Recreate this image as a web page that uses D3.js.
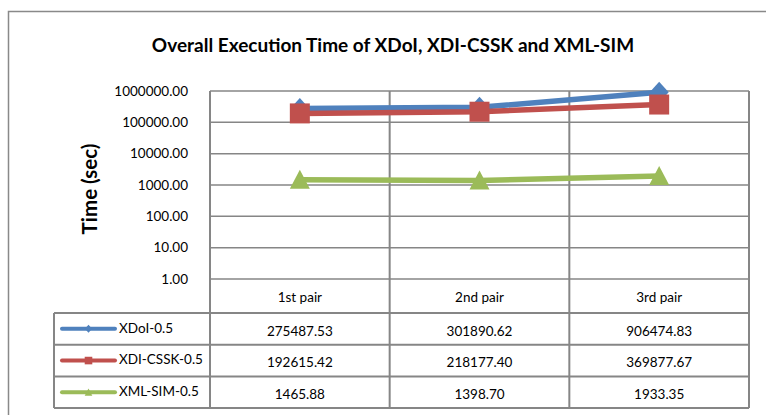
<!DOCTYPE html>
<html><head><meta charset="utf-8">
<script src="https://cdn.jsdelivr.net/npm/d3@7"></script>
<style>
body{margin:0;background:#fff;}
svg{display:block;}
text{font-family:Lato,"Open Sans",sans-serif;fill:#000;}
</style></head>
<body><svg id="c" width="766" height="415"></svg>
<script>
const categories = ["1st pair", "2nd pair", "3rd pair"];
const seriesNames = ["XDoI-0.5", "XDI-CSSK-0.5", "XML-SIM-0.5"];
const xdoi = [275487.53, 301890.62, 906474.83];
const xdiCssk = [192615.42, 218177.40, 369877.67];
const xmlSim = [1465.88, 1398.70, 1933.35];
const yTicks = [1, 10, 100, 1000, 10000, 100000, 1000000];
const title = "Overall Execution Time of XDoI, XDI-CSSK and XML-SIM";
const yLabel = "Time (sec)";

const colors = ["#4F81BD", "#C0504D", "#9BBB59"];

// custom marker shapes (scale factor s)
function diamond(s) { return {draw(ctx) { ctx.moveTo(0, -10.5*s); ctx.lineTo(9.5*s, 0); ctx.lineTo(0, 10.5*s); ctx.lineTo(-9.5*s, 0); ctx.closePath(); }}; }
function square(s) { return {draw(ctx) { ctx.rect(-10*s, -10*s, 20*s, 20*s); }}; }
function triangle(s) { return {draw(ctx) { ctx.moveTo(0, -10*s); ctx.lineTo(10*s, 9*s); ctx.lineTo(-10*s, 9*s); ctx.closePath(); }}; }
const markers = [diamond, square, triangle];
const series = [xdoi, xdiCssk, xmlSim].map((v, i) => ({name: seriesNames[i], values: v, color: colors[i], marker: markers[i]}));

const svg = d3.select("#c");
const grid = "#868686";

// outer chart border
svg.append("rect").attr("x", 8.5).attr("y", 11.5).attr("width", 800).attr("height", 450)
  .attr("fill", "#fff").attr("stroke", "#898989").attr("stroke-width", 1.5);

const L = 210, R = 749, T = 91, B = 279;
const x = d3.scaleBand().domain(categories).range([L, R]).padding(0);
const y = d3.scaleLog().domain([1, 1000000]).range([B, T]);

// title
svg.append("text").attr("x", 393).attr("y", 52).attr("text-anchor", "middle")
  .style("font-size", "19px").style("font-weight", "bold").text(title);

// y label
svg.append("text").attr("transform", "translate(97,189) rotate(-90)").attr("text-anchor", "middle")
  .style("font-size", "20.5px").style("font-weight", "bold").text(yLabel);

// horizontal gridlines
svg.append("g").selectAll("line").data(yTicks).join("line")
  .attr("x1", L).attr("x2", R).attr("y1", d => y(d)).attr("y2", d => y(d))
  .attr("stroke", grid).attr("stroke-width", 1.5);

// y axis labels
const yAxis = d3.axisLeft(y).tickValues(yTicks).tickFormat(d3.format(".2f")).tickSize(0).tickPadding(22);
const ya = svg.append("g").attr("transform", `translate(${L},0)`).call(yAxis);
ya.select(".domain").remove();
ya.selectAll("text").style("font-size", "13.5px").style("font-family", "Lato,sans-serif").attr("fill", "#000");

// data table geometry
const rowH = 31.7;
const headerBottom = 313;
const tableBottom = headerBottom + rowH * 3;
const legendLeft = 54;

// vertical lines in plot + table
const vx = [L, ...categories.map(c => x(c) + x.bandwidth())];
svg.append("g").selectAll("line").data(vx).join("line")
  .attr("x1", d => d).attr("x2", d => d).attr("y1", T).attr("y2", tableBottom)
  .attr("stroke", grid).attr("stroke-width", 2);

// table horizontal lines
const rowLines = [0, 1, 2, 3].map(i => headerBottom + i * rowH);
svg.append("g").selectAll("line").data(rowLines).join("line")
  .attr("x1", legendLeft).attr("x2", R).attr("y1", d => d).attr("y2", d => d)
  .attr("stroke", grid).attr("stroke-width", 2);
svg.append("line").attr("x1", legendLeft).attr("x2", legendLeft).attr("y1", headerBottom).attr("y2", tableBottom)
  .attr("stroke", grid).attr("stroke-width", 2);

// category labels
const xAxis = d3.axisBottom(x).tickSize(0).tickPadding(0);
const xa = svg.append("g").attr("transform", `translate(0,${B})`).call(xAxis);
xa.select(".domain").remove();
xa.selectAll("text").attr("dy", null).attr("y", 23).style("font-size", "13.5px")
  .style("font-family", "Lato,sans-serif").attr("fill", "#000");

// lines
const line = d3.line().x((d, i) => x(categories[i]) + x.bandwidth() / 2).y(d => y(d));
series.forEach(s => {
  svg.append("path").datum(s.values).attr("d", line).attr("fill", "none")
    .attr("stroke", s.color).attr("stroke-width", 5.5).attr("stroke-linejoin", "round");
  svg.append("g").selectAll("path").data(s.values).join("path")
    .attr("transform", (d, i) => `translate(${x(categories[i]) + x.bandwidth() / 2},${y(d)})`)
    .attr("d", d3.symbol().type(s.marker(1)))
    .attr("fill", s.color);
});

// table rows
series.forEach((s, r) => {
  const cy = headerBottom + r * rowH + rowH / 2;
  svg.append("line").attr("x1", 62).attr("x2", 115).attr("y1", cy).attr("y2", cy)
    .attr("stroke", s.color).attr("stroke-width", 4).attr("stroke-linecap", "round");
  svg.append("path").attr("transform", `translate(88.5,${cy})`)
    .attr("d", d3.symbol().type(s.marker(0.38))).attr("fill", s.color);
  svg.append("text").attr("x", 119).attr("y", cy - 1).attr("dy", "0.35em").style("font-size", "13.5px").text(s.name);
  s.values.forEach((v, i) => {
    svg.append("text").attr("x", x(categories[i]) + x.bandwidth() / 2).attr("y", cy + 2).attr("dy", "0.35em")
      .attr("text-anchor", "middle").style("font-size", "13.5px").text(d3.format(".2f")(v));
  });
});
</script></body></html>
